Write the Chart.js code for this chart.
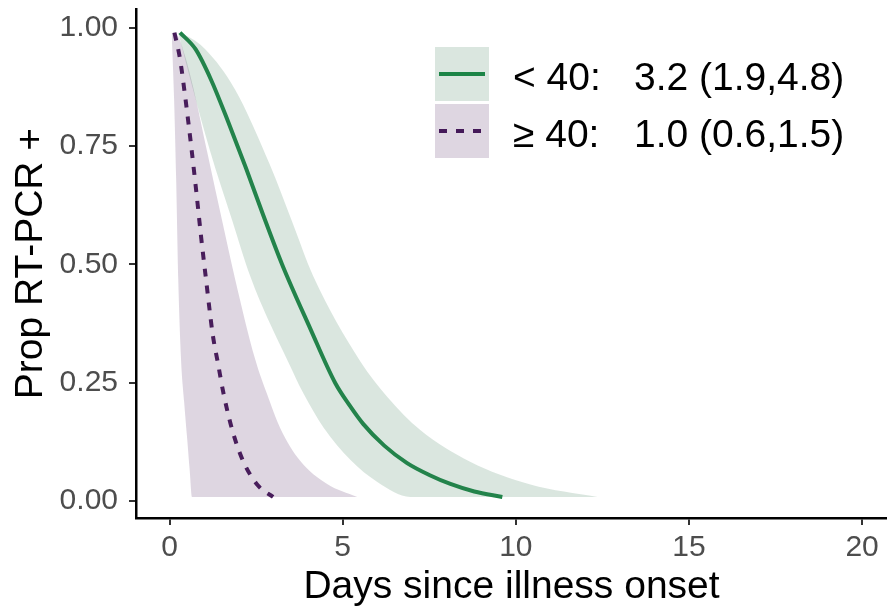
<!DOCTYPE html>
<html>
<head>
<meta charset="utf-8">
<script src="https://cdn.jsdelivr.net/npm/chart.js@4"></script>
<style>
  html, body { margin: 0; padding: 0; background: #fff; }
  canvas { display: block; }
</style>
</head>
<body>
<canvas id="rtpcr" width="887" height="611"></canvas>
<script>
// values: days since onset -> proportion RT-PCR positive
const groupLabels = ['< 40:', '\u2265 40:'];
const groupEstimates = ['3.2 (1.9,4.8)', '1.0 (0.6,1.5)'];

// < 40 : median curve
const daysLt40 = [0.30, 0.75, 1.20, 1.70, 2.20, 2.70, 3.25, 4.06, 4.78, 5.20, 5.59, 6.20, 6.86, 7.50, 8.11, 8.80, 9.61];
const propLt40 = [0.99, 0.955, 0.89, 0.80, 0.705, 0.605, 0.50, 0.365, 0.25, 0.202, 0.163, 0.117, 0.080, 0.055, 0.036, 0.020, 0.0085];
// < 40 : ribbon edges
const hiDaysLt40 = [0.25, 0.45, 1.03, 1.89, 2.90, 3.54, 4.15, 5.51, 6.29, 7.24, 8.68, 10.42, 12.36];
const hiPropLt40 = [0.99, 0.985, 0.955, 0.87, 0.71, 0.59, 0.475, 0.295, 0.22, 0.15, 0.083, 0.035, 0.0085];
const loDaysLt40 = [0.25, 0.64, 1.17, 1.80, 2.33, 2.90, 3.42, 3.86, 4.44, 5.22, 6.00, 6.95, 12.36];
const loPropLt40 = [0.99, 0.88, 0.74, 0.595, 0.475, 0.375, 0.295, 0.228, 0.156, 0.087, 0.040, 0.0085, 0.0085];

// >= 40 : median curve
const daysGe40 = [0.14, 0.30, 0.45, 0.64, 0.77, 0.90, 1.05, 1.25, 1.40, 1.55, 1.81, 2.12, 2.56, 2.99];
const propGe40 = [0.99, 0.935, 0.855, 0.74, 0.655, 0.565, 0.47, 0.35, 0.29, 0.23, 0.15, 0.085, 0.032, 0.0085];
// >= 40 : ribbon edges
const hiDaysGe40 = [0.06, 0.22, 0.45, 0.68, 1.08, 1.51, 1.89, 2.47, 2.82, 3.19, 3.77, 4.55, 5.42];
const hiPropGe40 = [0.99, 0.985, 0.94, 0.875, 0.74, 0.595, 0.47, 0.30, 0.225, 0.155, 0.085, 0.036, 0.0085];
const loDaysGe40 = [0.06, 0.13, 0.19, 0.25, 0.33, 0.42, 0.51, 0.58, 0.65, 5.42];
const loPropGe40 = [0.99, 0.85, 0.68, 0.47, 0.30, 0.21, 0.13, 0.066, 0.0085, 0.0085];

const xTicks = [0, 5, 10, 15, 20];
const yTicks = [0, 0.25, 0.5, 0.75, 1];

const colGreen = 'rgb(27,132,70)';
const colPurple = 'rgb(68,24,88)';
const fillGreen = 'rgba(70,130,95,0.2)';
const fillPurple = 'rgba(90,50,105,0.2)';
const FONT = '"Liberation Sans", Arial, Helvetica, sans-serif';

const pts = (xs, ys) => xs.map((x, i) => ({x: x, y: ys[i]}));

function edge(xs, ys, fill) {
    return {data: pts(xs, ys), borderWidth: 0, pointRadius: 0, fill: fill,
            backgroundColor: fill ? fill.color : undefined,
            cubicInterpolationMode: 'monotone'};
}

// ggplot-style legend drawn inside the panel
const legendBox = {
    id: 'legendBox',
    afterDraw(chart) {
        const ctx = chart.ctx;
        const rows = [
            {fill: fillGreen, line: colGreen, dash: [], top: 47},
            {fill: fillPurple, line: colPurple, dash: [8, 9], top: 104}
        ];
        ctx.save();
        rows.forEach((r, i) => {
            ctx.fillStyle = r.fill;
            ctx.fillRect(435, r.top, 54, 54);
            ctx.strokeStyle = r.line;
            ctx.lineWidth = 4;
            ctx.setLineDash(r.dash);
            ctx.beginPath();
            ctx.moveTo(439, r.top + 27);
            ctx.lineTo(485, r.top + 27);
            ctx.stroke();
            ctx.setLineDash([]);
            ctx.fillStyle = '#000';
            ctx.font = '39px ' + FONT;
            ctx.textBaseline = 'alphabetic';
            ctx.textAlign = 'left';
            ctx.fillText(groupLabels[i], 513, r.top + 43);
            ctx.fillText(groupEstimates[i], 634, r.top + 43);
        });
        ctx.restore();
    }
};

new Chart(document.getElementById('rtpcr'), {
    type: 'line',
    data: {
        datasets: [
            edge(loDaysLt40, loPropLt40, false),
            edge(hiDaysLt40, hiPropLt40, {target: 0, color: fillGreen}),
            edge(loDaysGe40, loPropGe40, false),
            edge(hiDaysGe40, hiPropGe40, {target: 2, color: fillPurple}),
            {
                data: pts(daysLt40, propLt40), borderColor: colGreen, borderWidth: 4,
                pointRadius: 0, fill: false, cubicInterpolationMode: 'monotone'
            },
            {
                data: pts(daysGe40, propGe40), borderColor: colPurple, borderWidth: 4,
                borderDash: [8, 9], pointRadius: 0, fill: false, cubicInterpolationMode: 'monotone'
            }
        ]
    },
    options: {
        responsive: false,
        animation: false,
        layout: {padding: {top: 9, right: 0, left: 0, bottom: 0}},
        plugins: {legend: {display: false}, tooltip: {enabled: false}},
        scales: {
            x: {
                type: 'linear', min: -0.97, max: 20.72,
                afterBuildTicks: s => { s.ticks = xTicks.map(v => ({value: v})); },
                afterFit: s => { s.height = 93; s.paddingLeft = 0; s.paddingRight = 0; },
                grid: {drawOnChartArea: false, drawTicks: true, tickLength: 7, color: '#333', lineWidth: 2},
                border: {display: true, color: '#000', width: 2.5},
                ticks: {color: '#4d4d4d', font: {family: FONT, size: 30}, padding: 5, maxRotation: 0},
                title: {display: true, text: 'Days since illness onset', color: '#000',
                        font: {family: FONT, size: 39}, padding: {top: 0, bottom: 0}}
            },
            y: {
                type: 'linear', min: -0.036, max: 1.04,
                afterBuildTicks: s => { s.ticks = yTicks.map(v => ({value: v})); },
                afterFit: s => { s.width = 136; s.paddingTop = 0; s.paddingBottom = 0; },
                grid: {drawOnChartArea: false, drawTicks: true, tickLength: 7, color: '#333', lineWidth: 2},
                border: {display: true, color: '#000', width: 2.5},
                ticks: {color: '#4d4d4d', font: {family: FONT, size: 30}, padding: 11,
                        callback: v => v.toFixed(2)},
                title: {display: true, text: 'Prop RT-PCR +', color: '#000',
                        font: {family: FONT, size: 39}, padding: {top: 8, bottom: 0}}
            }
        }
    },
    plugins: [legendBox]
});
</script>
</body>
</html>
